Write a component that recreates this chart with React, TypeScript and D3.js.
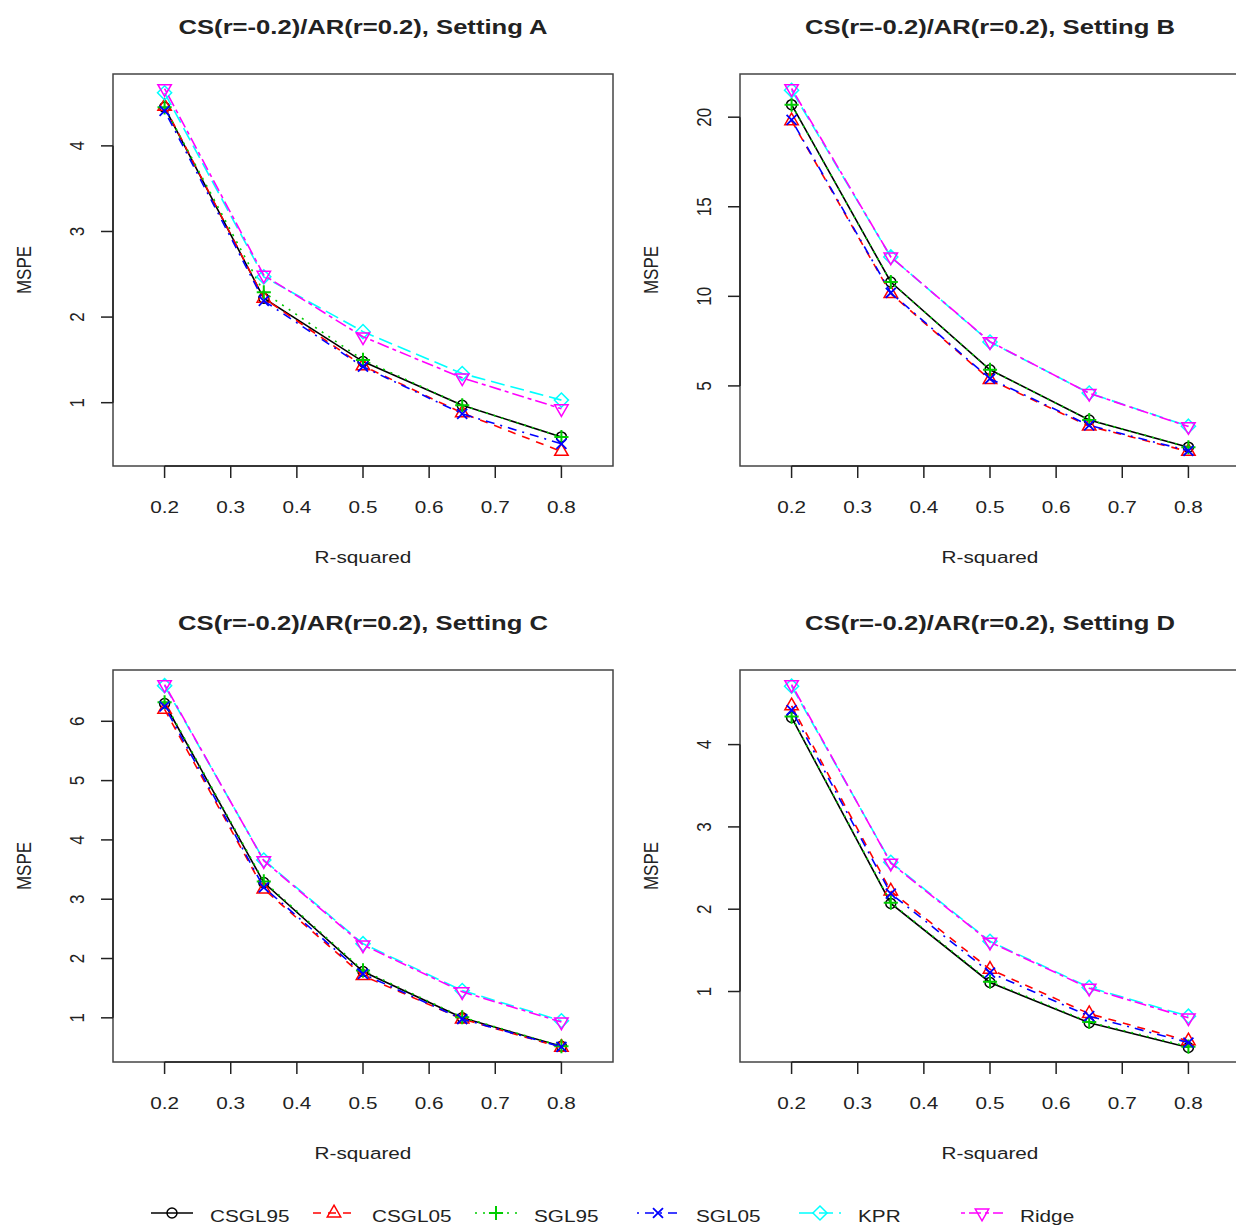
import React from "react";
import * as d3 from "d3";

// ---------- data ----------
const rSquared = [0.2, 0.35, 0.5, 0.65, 0.8];
const xTicks = [0.2, 0.3, 0.4, 0.5, 0.6, 0.7, 0.8];
const seriesNames = ["CSGL95", "CSGL05", "SGL95", "SGL05", "KPR", "Ridge"];

const panelTitles = [
  "CS(r=-0.2)/AR(r=0.2), Setting A",
  "CS(r=-0.2)/AR(r=0.2), Setting B",
  "CS(r=-0.2)/AR(r=0.2), Setting C",
  "CS(r=-0.2)/AR(r=0.2), Setting D",
];

// rows follow seriesNames order
const mspeSettingA = [
  [4.45, 2.22, 1.48, 0.97, 0.6],
  [4.46, 2.22, 1.43, 0.88, 0.43],
  [4.45, 2.29, 1.5, 0.97, 0.6],
  [4.41, 2.19, 1.42, 0.87, 0.52],
  [4.62, 2.47, 1.83, 1.34, 1.03],
  [4.67, 2.49, 1.77, 1.29, 0.93],
];
const mspeSettingB = [
  [20.7, 10.8, 5.9, 3.1, 1.58],
  [19.8, 10.15, 5.35, 2.75, 1.34],
  [20.7, 10.8, 5.9, 3.1, 1.58],
  [19.85, 10.2, 5.4, 2.8, 1.38],
  [21.5, 12.2, 7.45, 4.6, 2.75],
  [21.6, 12.2, 7.47, 4.59, 2.73],
];
const mspeSettingC = [
  [6.3, 3.28, 1.78, 1.0, 0.52],
  [6.2, 3.17, 1.71, 0.98, 0.5],
  [6.32, 3.3, 1.8, 1.01, 0.52],
  [6.25, 3.2, 1.74, 0.98, 0.51],
  [6.6, 3.66, 2.25, 1.46, 0.95],
  [6.62, 3.65, 2.23, 1.44, 0.93],
];
const mspeSettingD = [
  [4.33, 2.07, 1.11, 0.62, 0.32],
  [4.47, 2.22, 1.27, 0.73, 0.4],
  [4.34, 2.08, 1.12, 0.63, 0.33],
  [4.42, 2.19, 1.23, 0.7, 0.38],
  [4.71, 2.57, 1.61, 1.05, 0.7],
  [4.73, 2.56, 1.6, 1.04, 0.68],
];

const yTicksA = [1, 2, 3, 4];
const yTicksB = [5, 10, 15, 20];
const yTicksC = [1, 2, 3, 4, 5, 6];
const yTicksD = [1, 2, 3, 4];

// ---------- styles ----------
const COLORS = ["#000000", "#FF0000", "#00CD00", "#0000FF", "#00FFFF", "#FF00FF"];
const DASHES = ["", "8,7", "2,6", "2,6,9,6", "14,6", "4,4,12,4"];
const SHAPES = ["circle", "triangle", "plus", "cross", "diamond", "down"];
const FONT = "'Liberation Sans', Arial, Helvetica, sans-serif";
const SX = 1.22; // horizontal stretch of the reference raster
const TEXT_COLOR = "#222";

const PANELS = [
  { left: 113, top: 74, data: mspeSettingA, yTicks: yTicksA },
  { left: 740, top: 74, data: mspeSettingB, yTicks: yTicksB },
  { left: 113, top: 670, data: mspeSettingC, yTicks: yTicksC },
  { left: 740, top: 670, data: mspeSettingD, yTicks: yTicksD },
];
const BOX_W = 500;
const BOX_H = 392;

function T({ x, y, children, size = 17, bold = false, anchor = "middle", rotate = false }: any) {
  return (
    <text
      transform={`translate(${x},${y}) scale(${SX},1)${rotate ? " rotate(-90)" : ""}`}
      fontFamily={FONT}
      fontSize={size}
      fontWeight={bold ? "bold" : "normal"}
      textAnchor={anchor}
      fill={TEXT_COLOR}
    >
      {children}
    </text>
  );
}

function Marker({ shape, x, y, color }: any) {
  const s = 13.3;
  const R = 0.375 * s;
  const sw = 1.5;
  if (shape === "circle")
    return <circle cx={x} cy={y} r={R} fill="none" stroke={color} strokeWidth={sw} />;
  if (shape === "triangle" || shape === "down") {
    const trc0 = Math.sqrt((4 * Math.PI) / (3 * Math.sqrt(3))) * R;
    const xc = (trc0 * Math.sqrt(3)) / 2;
    const yc = trc0 / 2;
    const d = shape === "triangle" ? 1 : -1;
    const pts = [
      [x, y - d * trc0],
      [x + xc, y + d * yc],
      [x - xc, y + d * yc],
    ];
    return <polygon points={pts.map((p) => p.join(",")).join(" ")} fill="none" stroke={color} strokeWidth={sw} />;
  }
  if (shape === "plus") {
    const h = Math.SQRT2 * R;
    return (
      <path d={`M${x - h},${y}H${x + h}M${x},${y - h}V${y + h}`} stroke={color} strokeWidth={sw + 0.5} fill="none" />
    );
  }
  if (shape === "cross") {
    const h = R;
    return (
      <path
        d={`M${x - h},${y - h}L${x + h},${y + h}M${x - h},${y + h}L${x + h},${y - h}`}
        stroke={color}
        strokeWidth={sw + 0.3}
        fill="none"
      />
    );
  }
  // diamond
  const h = Math.SQRT2 * R;
  return (
    <polygon
      points={`${x},${y - h} ${x + h},${y} ${x},${y + h} ${x - h},${y}`}
      fill="none"
      stroke={color}
      strokeWidth={sw}
    />
  );
}

function Panel({ left, top, data, yTicks, title }: any) {
  const xDom = [0.15, 0.85];
  const xPad = (xDom[1] - xDom[0]) * 0.04;
  const x = d3.scaleLinear().domain([xDom[0] - xPad, xDom[1] + xPad]).range([left, left + BOX_W]);
  const all = (data as number[][]).flat();
  const lo = d3.min(all)!;
  const hi = d3.max(all)!;
  const yPad = (hi - lo) * 0.04;
  const y = d3.scaleLinear().domain([lo - yPad, hi + yPad]).range([top + BOX_H, top]);
  const line = d3
    .line<number>()
    .x((_, i) => x(rSquared[i]))
    .y((d) => y(d));
  const bottom = top + BOX_H;
  const tick = 12;
  return (
    <g>
      <T x={left + BOX_W / 2} y={top - 40} size={21} bold>
        {title}
      </T>
      <rect x={left} y={top} width={BOX_W} height={BOX_H} fill="none" stroke="#444" strokeWidth={1.5} />
      {/* x axis */}
      <line x1={x(xTicks[0])} x2={x(xTicks[xTicks.length - 1])} y1={bottom} y2={bottom} stroke="#222" strokeWidth={1.5} />
      {xTicks.map((t) => (
        <g key={t}>
          <line x1={x(t)} x2={x(t)} y1={bottom} y2={bottom + tick} stroke="#222" strokeWidth={1.5} />
          <T x={x(t)} y={bottom + 47}>
            {t.toFixed(1)}
          </T>
        </g>
      ))}
      <T x={left + BOX_W / 2} y={bottom + 97}>
        R-squared
      </T>
      {/* y axis */}
      <line x1={left} x2={left} y1={y(yTicks[0])} y2={y(yTicks[yTicks.length - 1])} stroke="#222" strokeWidth={1.5} />
      {yTicks.map((t: number) => (
        <g key={t}>
          <line x1={left - tick} x2={left} y1={y(t)} y2={y(t)} stroke="#222" strokeWidth={1.5} />
          <T x={left - 29} y={y(t)} rotate>
            {String(t)}
          </T>
        </g>
      ))}
      <T x={left - 82} y={top + BOX_H / 2} rotate>
        MSPE
      </T>
      {/* series */}
      {(data as number[][]).map((vals, si) => (
        <g key={si}>
          <path
            d={line(vals)!}
            fill="none"
            stroke={COLORS[si]}
            strokeWidth={1.6}
            strokeDasharray={DASHES[si] || undefined}
          />
          {vals.map((v, i) => (
            <Marker key={i} shape={SHAPES[si]} x={x(rSquared[i])} y={y(v)} color={COLORS[si]} />
          ))}
        </g>
      ))}
    </g>
  );
}

export default function App() {
  const legendX = d3.scaleLinear().domain([0, 5]).range([172, 982]);
  const legendY = 1213;
  return (
    <svg
      width={1236}
      height={1228}
      style={{ position: "absolute", left: 0, top: 0, background: "#fff" }}
    >
      <rect width={1236} height={1228} fill="#fff" />
      {PANELS.map((p, i) => (
        <Panel key={i} {...p} title={panelTitles[i]} />
      ))}
      {seriesNames.map((name, i) => {
        const cx = legendX(i);
        return (
          <g key={name}>
            <line
              x1={cx - 21}
              x2={cx + 21}
              y1={legendY}
              y2={legendY}
              stroke={COLORS[i]}
              strokeWidth={1.6}
              strokeDasharray={DASHES[i] || undefined}
            />
            <Marker shape={SHAPES[i]} x={cx} y={legendY} color={COLORS[i]} />
            <T x={cx + 38} y={legendY + 9} anchor="start">
              {name}
            </T>
          </g>
        );
      })}
    </svg>
  );
}
